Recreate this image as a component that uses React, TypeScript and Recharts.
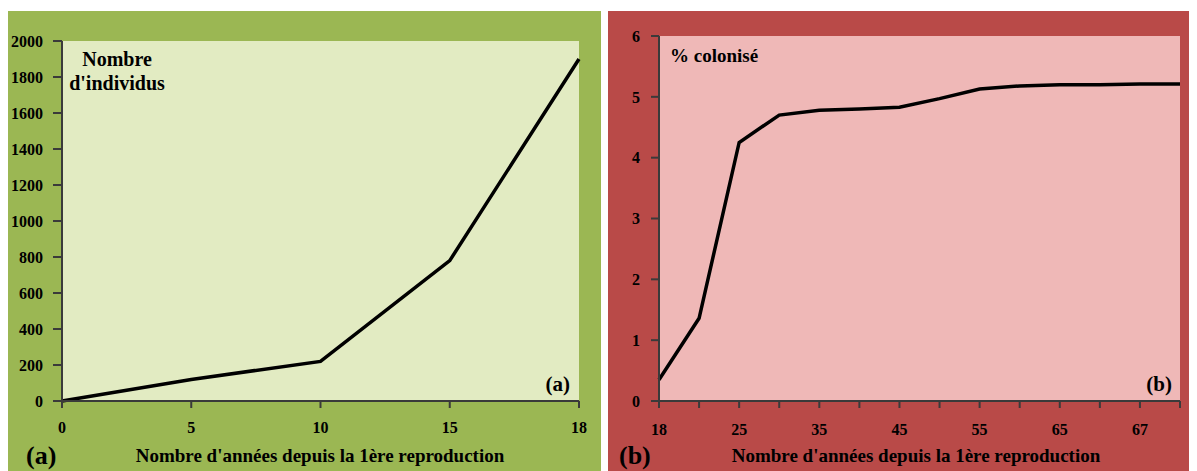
import React from "react";
import { CartesianGrid, Line, LineChart, XAxis, YAxis } from "recharts";

// (a) nombre d'individus
const yearsA = ["0", "5", "10", "15", "18"];
const individus = [0, 120, 220, 780, 1900];
const yTicksA = [0, 200, 400, 600, 800, 1000, 1200, 1400, 1600, 1800, 2000];

// (b) % colonisé
const yearsB = ["18", "20", "25", "30", "35", "40", "45", "50", "55", "60", "65", "66", "67", "68"];
const colonise = [0.35, 1.36, 4.25, 4.7, 4.78, 4.8, 4.83, 4.97, 5.13, 5.18, 5.2, 5.2, 5.21, 5.21];
const yTicksB = [0, 1, 2, 3, 4, 5, 6];

const xTitle = "Nombre d'années depuis la 1ère reproduction";

const FONT = "'Liberation Serif', 'DejaVu Serif', serif";
const AXIS = "#3a3a3a";

const GREEN_OUT = "#9bb753";
const GREEN_IN = "#e2ebc2";
const RED_OUT = "#b94a48";
const RED_IN = "#efb8b7";

const tickStyle = { fill: "#000", fontSize: 16, fontWeight: 700, fontFamily: FONT };

const dataA = yearsA.map((x, i) => ({ x, v: individus[i] }));
const dataB = yearsB.map((x, i) => ({ x, v: colonise[i] }));

const label = (extra: React.CSSProperties): React.CSSProperties => ({
  position: "absolute",
  fontFamily: FONT,
  fontWeight: 700,
  color: "#000",
  whiteSpace: "nowrap",
  lineHeight: 1,
  ...extra,
});

// every category gets a tick mark, only every other one a label
function EveryOtherTick(props: any) {
  const { x, y, payload, index } = props;
  if (index % 2 !== 0) return <g />;
  return (
    <text x={x} y={y} dy="0.71em" textAnchor="middle" {...tickStyle}>
      {payload.value}
    </text>
  );
}

function PanelA() {
  return (
    <div style={{ position: "relative", width: 593, height: 460, background: GREEN_OUT }}>
      <LineChart width={593} height={460} data={dataA} margin={{ top: 30, right: 22, bottom: 0, left: 0 }}>
        <CartesianGrid horizontal={false} vertical={false} fill={GREEN_IN} stroke="none" />
        <XAxis
          dataKey="x"
          height={70}
          interval={0}
          tick={tickStyle}
          tickSize={7}
          tickMargin={14}
          axisLine={{ stroke: AXIS, strokeWidth: 2 }}
          tickLine={{ stroke: AXIS, strokeWidth: 2 }}
        />
        <YAxis
          width={54}
          domain={[0, 2000]}
          ticks={yTicksA}
          interval={0}
          tick={tickStyle}
          tickSize={9}
          tickMargin={10}
          axisLine={{ stroke: AXIS, strokeWidth: 2 }}
          tickLine={{ stroke: AXIS, strokeWidth: 2 }}
        />
        <Line type="linear" dataKey="v" stroke="#000" strokeWidth={3.5} dot={false} isAnimationActive={false} />
      </LineChart>
      <div style={label({ left: 109, top: 36, transform: "translateX(-50%)", fontSize: 20, lineHeight: "24px", textAlign: "center" })}>
        Nombre
        <br />
        d'individus
      </div>
      <div style={label({ right: 31, top: 363, fontSize: 21 })}>(a)</div>
      <div style={label({ left: 18, top: 432, fontSize: 26 })}>(a)</div>
      <div style={label({ left: 312, top: 435, transform: "translateX(-50%)", fontSize: 19 })}>{xTitle}</div>
    </div>
  );
}

function PanelB() {
  return (
    <div style={{ position: "relative", width: 589, height: 460, background: RED_OUT }}>
      <LineChart width={589} height={460} data={dataB} margin={{ top: 25, right: 17, bottom: 0, left: 0 }}>
        <CartesianGrid horizontal={false} vertical={false} fill={RED_IN} stroke="none" />
        <XAxis
          dataKey="x"
          height={70}
          interval={0}
          tick={<EveryOtherTick />}
          tickSize={7}
          tickMargin={16}
          axisLine={{ stroke: AXIS, strokeWidth: 2 }}
          tickLine={{ stroke: AXIS, strokeWidth: 2 }}
        />
        <YAxis
          width={51}
          domain={[0, 6]}
          ticks={yTicksB}
          interval={0}
          tick={tickStyle}
          tickSize={8}
          tickMargin={11}
          axisLine={{ stroke: AXIS, strokeWidth: 2 }}
          tickLine={{ stroke: AXIS, strokeWidth: 2 }}
        />
        <Line type="linear" dataKey="v" stroke="#000" strokeWidth={3.5} dot={false} isAnimationActive={false} />
      </LineChart>
      <div style={label({ left: 62, top: 35, fontSize: 19 })}>% colonisé</div>
      <div style={label({ right: 25, top: 363, fontSize: 21 })}>(b)</div>
      <div style={label({ left: 11, top: 432, fontSize: 26 })}>(b)</div>
      <div style={label({ left: 308, top: 435, transform: "translateX(-50%)", fontSize: 19 })}>{xTitle}</div>
    </div>
  );
}

export default function App() {
  return (
    <div style={{ paddingTop: 3, width: 1189, height: 463, overflow: "hidden" }}>
      <div style={{ display: "flex", gap: 7 }}>
        <PanelA />
        <PanelB />
      </div>
    </div>
  );
}
